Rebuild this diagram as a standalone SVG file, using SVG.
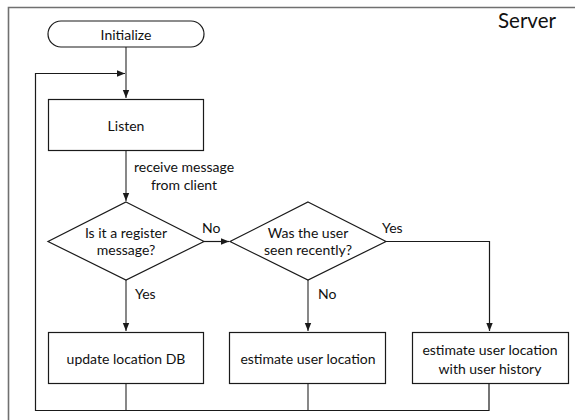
<svg xmlns="http://www.w3.org/2000/svg" width="575" height="420" viewBox="0 0 575 420">
  <style>
    .shape { fill: #ffffff; stroke: #1a1a1a; stroke-width: 1.2; }
    .frame { fill: none; stroke: #707070; stroke-width: 1.6; }
    .wire { fill: none; stroke: #1a1a1a; stroke-width: 1.2; }
    .wire-v { fill: none; stroke: #555555; stroke-width: 1.4; }
    text { font-family: Lato, "Liberation Sans", sans-serif; font-size: 14px; fill: #111111; text-anchor: middle; }
    .title { font-size: 20.5px; text-anchor: start; }
    .lbl { text-anchor: start; }
  </style>
  <defs>
    <marker id="arrow" viewBox="0 0 8 8" refX="8" refY="4" markerWidth="8" markerHeight="8" markerUnits="userSpaceOnUse" orient="auto">
      <path d="M0,0.8 L8,4 L0,7.2 Z" fill="#1a1a1a"/>
    </marker>
  </defs>

  <rect width="575" height="420" fill="#ffffff"/>

  <!-- enclosing frame (open to the right and bottom) -->
  <path class="frame" d="M8.5,420 V7.5 H575"/>
  <text class="title" x="498" y="28">Server</text>

  <!-- connectors -->
  <g id="connectors">
    <path class="wire-v" d="M126,47 V98" marker-end="url(#arrow)"/>
    <path class="wire" d="M489,384 V410.5 H35.5 V73.5 H125" marker-end="url(#arrow)"/>
    <path class="wire-v" d="M126,151 V201" marker-end="url(#arrow)"/>
    <path class="wire" d="M204,241.5 H229" marker-end="url(#arrow)"/>
    <path class="wire" d="M385,241.5 H489.5 V331" marker-end="url(#arrow)"/>
    <path class="wire-v" d="M126,280 V331" marker-end="url(#arrow)"/>
    <path class="wire-v" d="M308,280 V331" marker-end="url(#arrow)"/>
    <path class="wire-v" d="M126,384 V410"/>
    <path class="wire-v" d="M308,384 V410"/>
    <text x="184" y="172">receive message</text>
    <text x="184" y="190">from client</text>
    <text class="lbl" x="202" y="233">No</text>
    <text class="lbl" x="382" y="233">Yes</text>
    <text class="lbl" x="135" y="299">Yes</text>
    <text class="lbl" x="318" y="299">No</text>
  </g>

  <g id="initialize">
    <rect class="shape" x="48" y="21" width="156" height="26" rx="13"/>
    <text x="126" y="39.5">Initialize</text>
  </g>

  <g id="listen">
    <rect class="shape" x="48.5" y="99.5" width="155" height="51"/>
    <text x="126" y="130.5">Listen</text>
  </g>

  <g id="is-register">
    <polygon class="shape" points="126,202 204,241.5 126,280 48,241.5"/>
    <text x="126" y="238">Is it a register</text>
    <text x="126" y="255">message?</text>
  </g>

  <g id="seen-recently">
    <polygon class="shape" points="308,202 386,241.5 308,280 230,241.5"/>
    <text x="308" y="238">Was the user</text>
    <text x="308" y="255">seen recently?</text>
  </g>

  <g id="update-db">
    <rect class="shape" x="48.5" y="332.5" width="155" height="51"/>
    <text x="126" y="363.5">update location DB</text>
  </g>

  <g id="estimate">
    <rect class="shape" x="229.5" y="332.5" width="156" height="51"/>
    <text x="308" y="363.5">estimate user location</text>
  </g>

  <g id="estimate-history">
    <rect class="shape" x="412.5" y="332.5" width="156" height="51"/>
    <text x="490" y="355">estimate user location</text>
    <text x="490" y="374">with user history</text>
  </g>
</svg>
